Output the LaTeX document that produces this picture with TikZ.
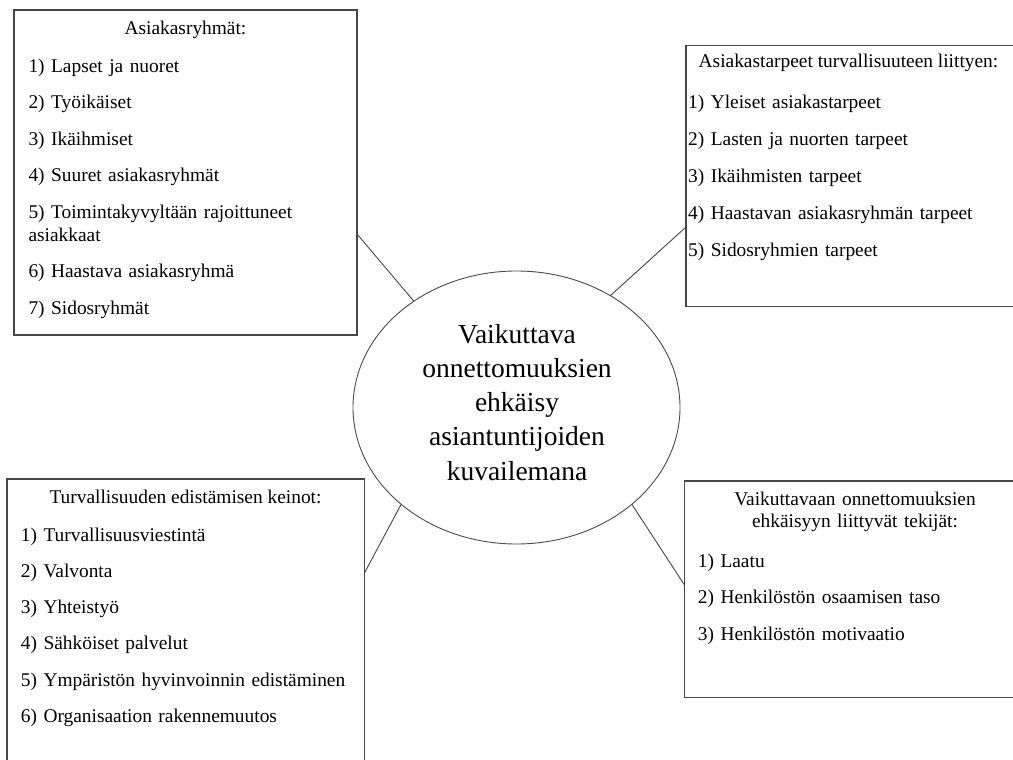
\documentclass[tikz,border=0pt]{standalone}
\usepackage{fontspec}
\setmainfont{Liberation Serif}
\usetikzlibrary{shapes.geometric}
\begin{document}
\begin{tikzpicture}[x=1pt,y=-1pt,
  panel/.style={draw=black!72, line width=1.3pt, inner sep=0pt, outer sep=0pt, anchor=north west},
  hub/.style={ellipse, draw=black!70, line width=0.9pt, inner sep=0pt, outer sep=0pt, minimum width=327pt, minimum height=273pt},
  conn/.style={draw=black!72, line width=0.9pt},
  boxtitle/.style={inner sep=0pt, anchor=base, font=\fontsize{19.4}{22.7}\selectfont},
  boxlist/.style={inner sep=0pt, anchor=base west, align=left, font=\fontsize{19.4}{22.7}\selectfont},
  hubtext/.style={inner sep=0pt, anchor=base, text width=300pt, align=center, font=\fontsize{27.5}{34.2}\selectfont}
]
\useasboundingbox (0,0) rectangle (1013,760);
\fill[white] (0,0) rectangle (1013,760);
\clip (0,0) rectangle (1013,760);

% boxes
\node[panel, minimum width=343pt, minimum height=325pt] (b1) at (14,10) {};
\node[panel, minimum width=334pt, minimum height=261pt] (b2) at (686,45.7) {};
\node[panel, minimum width=357.3pt, minimum height=301pt] (b3) at (7,479) {};
\node[panel, minimum width=340.5pt, minimum height=216.3pt] (b4) at (684.5,481) {};

% central ellipse
\node[hub] (c) at (516.5,407.5) {};
\node[hubtext] (ctext) at (517,343.3) {Vaikuttava\\onnettomuuksien\\ehkäisy\\asiantuntijoiden\\kuvailemana};

% box 1
\node[boxtitle] (h1) at (185.5,34.5) {Asiakasryhmät:};
\node[boxlist, text width=325pt] (l1) at (28.3,72.5) {1) Lapset ja nuoret\\[13.8pt]
2) Työikäiset\\[13.8pt]
3) Ikäihmiset\\[13.8pt]
4) Suuret asiakasryhmät\\[13.8pt]
5) Toimintakyvyltään rajoittuneet\\
asiakkaat\\[13.8pt]
6) Haastava asiakasryhmä\\[13.8pt]
7) Sidosryhmät};

% box 2
\node[boxtitle] (h2) at (848.5,67.3) {Asiakastarpeet turvallisuuteen liittyen:};
\node[boxlist, text width=320pt] (l2) at (688,108.3) {1) Yleiset asiakastarpeet\\[14.3pt]
2) Lasten ja nuorten tarpeet\\[14.3pt]
3) Ikäihmisten tarpeet\\[14.3pt]
4) Haastavan asiakasryhmän tarpeet\\[14.3pt]
5) Sidosryhmien tarpeet};

% box 3
\node[boxtitle] (h3) at (185.5,503.3) {Turvallisuuden edistämisen keinot:};
\node[boxlist, text width=340pt] (l3) at (20.7,541) {1) Turvallisuusviestintä\\[13.6pt]
2) Valvonta\\[13.6pt]
3) Yhteistyö\\[13.6pt]
4) Sähköiset palvelut\\[13.6pt]
5) Ympäristön hyvinvoinnin edistäminen\\[13.6pt]
6) Organisaation rakennemuutos};

% box 4
\node[boxtitle, text width=330pt, align=center] (h4) at (855,505) {Vaikuttavaan onnettomuuksien\\ehkäisyyn liittyvät tekijät:};
\node[boxlist, text width=310pt] (l4) at (697.7,567.7) {1) Laatu\\[13.5pt]
2) Henkilöstön osaamisen taso\\[13.5pt]
3) Henkilöstön motivaatio};

% connectors
\draw[conn] ([yshift=-224pt]b1.north east) -- (c.134.2);
\draw[conn] ([yshift=-181.3pt]b2.north west) -- (c.50.8);
\draw[conn] ([yshift=-94.3pt]b3.north east) -- (c.220.9);
\draw[conn] (c.320.9) -- ([yshift=-104pt]b4.north west);
\end{tikzpicture}
\end{document}
